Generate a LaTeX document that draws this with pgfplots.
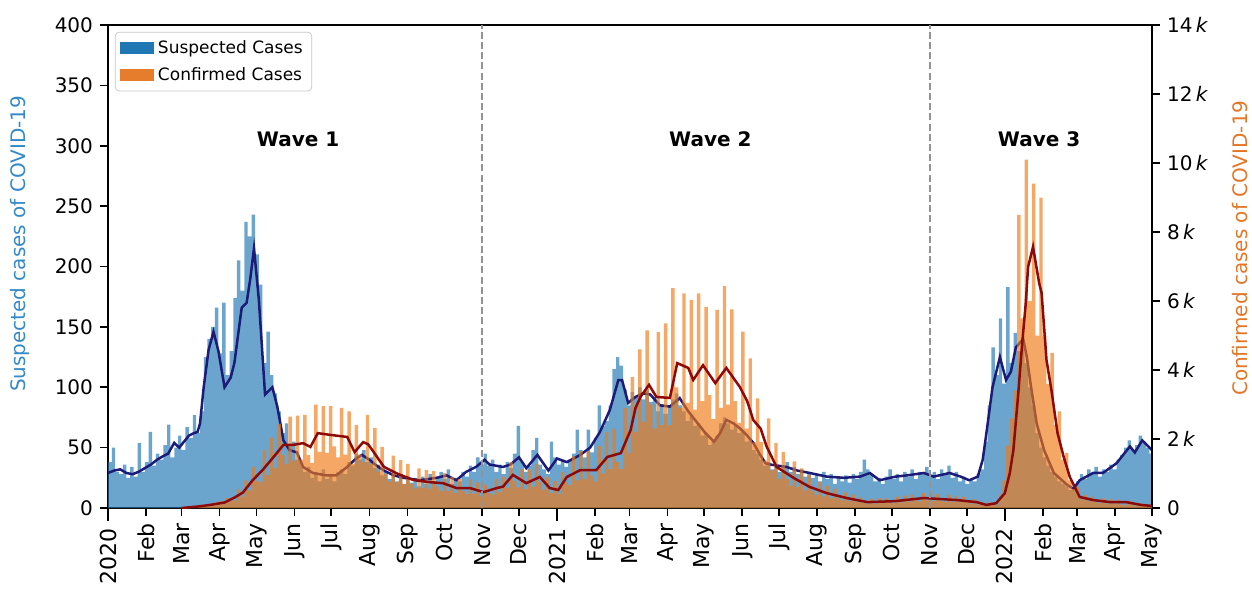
\documentclass[border=0pt]{standalone}
\usepackage{fontspec}
\setmainfont{DejaVu Sans}
\usepackage{pgfplots}
\usepackage{pgfplotstable}
\pgfplotsset{compat=1.18}
\definecolor{tabblue}{RGB}{31,119,180}
\definecolor{taborange}{RGB}{240,120,20}
\definecolor{legorange}{RGB}{230,125,45}
\definecolor{navyline}{RGB}{28,28,120}
\definecolor{redline}{RGB}{140,10,10}
\definecolor{labblue}{RGB}{52,138,199}
\definecolor{laborange}{RGB}{228,118,38}

\pgfplotstableread[row sep=\\, header=false]{
38\\50\\30\\28\\36\\25\\34\\26\\54\\30\\
38\\63\\35\\45\\40\\52\\69\\42\\50\\60\\
48\\67\\58\\77\\62\\
80\\125\\140\\150\\166\\128\\170\\110\\130\\174\\
205\\180\\237\\225\\243\\210\\185\\120\\146\\110\\
95\\80\\62\\70\\52\\
55\\40\\38\\30\\34\\25\\30\\22\\32\\24\\
28\\22\\30\\32\\28\\38\\35\\45\\40\\48\\
38\\42\\33\\36\\27\\30\\24\\28\\22\\27\\
20\\26\\21\\25\\18\\26\\20\\28\\22\\26\\
30\\24\\32\\20\\25\\22\\30\\26\\35\\30\\
42\\36\\45\\35\\40\\30\\36\\28\\38\\33\\
45\\68\\38\\30\\35\\48\\58\\36\\32\\28\\
55\\42\\36\\40\\34\\40\\45\\65\\48\\42\\
65\\46\\58\\85\\68\\72\\85\\115\\125\\118\\
98\\85\\96\\92\\100\\90\\98\\88\\92\\80\\
86\\78\\85\\90\\95\\85\\80\\72\\76\\68\\
70\\60\\62\\52\\56\\60\\70\\75\\70\\65\\
68\\62\\64\\55\\56\\48\\45\\40\\35\\38\\
32\\36\\30\\35\\38\\30\\34\\28\\32\\26\\
30\\25\\28\\22\\30\\24\\28\\20\\26\\22\\
27\\21\\28\\24\\30\\40\\32\\28\\22\\25\\
20\\26\\32\\24\\28\\22\\30\\26\\32\\24\\
30\\28\\34\\26\\30\\24\\32\\28\\35\\25\\
30\\22\\26\\20\\24\\22\\28\\
32\\55\\85\\133\\110\\157\\103\\183\\120\\145\\130\\137\\120\\
100\\85\\62\\50\\42\\35\\30\\26\\22\\20\\
18\\15\\16\\22\\28\\24\\32\\28\\34\\26\\
32\\30\\36\\32\\40\\44\\50\\56\\48\\52\\
60\\55\\50\\45\\
}\susp

\pgfplotstableread[row sep=\\, header=false]{
0\\0\\0\\0\\0\\0\\0\\0\\0\\0\\0\\0\\0\\0\\0\\0\\0\\0\\0\\0\\0\\
0.02\\0.02\\0.06\\0.04\\0.09\\0.06\\0.06\\0.15\\0.09\\0.2\\
0.12\\0.29\\0.21\\0.22\\0.55\\0.33\\0.8\\0.51\\1.19\\0.79\\
0.74\\1.68\\0.95\\2.04\\1.16\\2.44\\1.53\\1.28\\2.65\\1.37\\
2.68\\1.4\\2.7\\1.53\\1.3\\3.0\\1.63\\2.95\\1.6\\2.95\\
1.79\\1.47\\2.9\\1.55\\2.8\\1.28\\2.4\\1.55\\1.33\\2.7\\
1.29\\2.32\\1.05\\1.77\\0.99\\0.77\\1.52\\0.75\\1.39\\0.69\\
1.28\\0.71\\0.57\\1.15\\0.58\\1.1\\0.56\\1.07\\0.62\\0.5\\
1.02\\0.5\\0.9\\0.44\\0.84\\0.49\\0.41\\0.83\\0.41\\0.74\\
0.35\\0.68\\0.43\\0.39\\0.84\\0.45\\0.91\\0.59\\1.33\\0.79\\
0.6\\1.13\\0.55\\1.12\\0.62\\1.28\\0.76\\0.53\\0.9\\0.43\\
0.78\\0.41\\1.04\\0.75\\0.67\\1.5\\0.8\\1.65\\0.83\\1.65\\
0.94\\0.77\\1.8\\1.0\\2.2\\1.13\\2.3\\1.33\\1.13\\2.9\\
1.6\\3.8\\2.2\\4.6\\2.5\\5.15\\3.0\\2.3\\5.1\\2.4\\
5.35\\2.4\\6.37\\3.5\\2.9\\6.22\\3.05\\6.03\\2.85\\6.22\\
3.1\\5.83\\3.27\\2.58\\5.74\\2.9\\6.43\\3.0\\5.76\\3.1\\
2.47\\5.11\\2.3\\4.34\\1.9\\3.18\\1.91\\1.37\\2.6\\1.09\\
1.89\\0.84\\1.63\\0.84\\0.64\\1.35\\0.61\\1.15\\0.51\\0.96\\
0.48\\0.37\\0.76\\0.34\\0.65\\0.29\\0.56\\0.29\\0.22\\0.45\\
0.2\\0.39\\0.17\\0.31\\0.15\\0.12\\0.26\\0.13\\0.28\\0.14\\
0.29\\0.17\\0.14\\0.33\\0.16\\0.36\\0.18\\0.39\\0.22\\0.19\\
0.43\\0.22\\0.43\\0.2\\0.4\\0.21\\0.18\\0.37\\0.18\\0.36\\
0.17\\0.33\\0.17\\0.13\\0.26\\0.1\\0.17\\0.07\\0.16\\0.1\\
0.1\\0.39\\0.8\\1.8\\2.6\\3.4\\8.5\\5.5\\10.1\\6.0\\
9.4\\5.0\\9.0\\5.0\\3.6\\4.5\\2.4\\2.8\\1.4\\1.6\\
0.8\\0.55\\0.6\\0.25\\0.38\\0.2\\0.33\\0.17\\0.14\\0.28\\
0.13\\0.25\\0.12\\0.24\\0.1\\0.09\\0.2\\0.08\\0.15\\0.07\\
0.12\\0.05\\0.05\\
}\conf

\begin{document}
\begin{tikzpicture}
\pgfplotsset{
  common/.style={
    scale only axis, width=522pt, height=241.5pt,
    xmin=0, xmax=851,
    tick align=outside, major tick length=4pt,
    axis line style={line width=0.8pt},
    every tick/.style={black, line width=0.8pt},
    /pgf/number format/assume math mode=true,
    yticklabel style={font=\fontsize{10}{12}\selectfont},
  }
}
\begin{axis}[common, name=ax,
  ymin=0, ymax=400, ytick={0,50,...,400},
  ytick pos=left, xtick pos=bottom,
  xtick={31,60,91,121,152,182,213,244,274,305,335,397,425,456,486,517,547,578,609,639,670,700,762,790,821,851},
  xticklabels={Feb,Mar,Apr,May,Jun,Jul,Aug,Sep,Oct,Nov,Dec,Feb,Mar,Apr,May,Jun,Jul,Aug,Sep,Oct,Nov,Dec,Feb,Mar,Apr,May},
  xticklabel style={rotate=90, anchor=east, font=\fontsize{11}{12}\selectfont, inner ysep=1pt, inner xsep=3.5pt},
  extra x ticks={0,366,731},
  extra x tick labels={2020,2021,2022},
  extra x tick style={major tick length=6.5pt, tick label style={font=\fontsize{16}{17}\selectfont, inner xsep=4.5pt}},
  ylabel={Suspected cases of COVID-19},
  ylabel style={at={(axis description cs:-0.0843,0.547)}, anchor=center, font=\fontsize{10}{12}\selectfont, text=labblue},
]
\addplot[ybar, bar width=2.8, bar shift=0pt, draw=none, fill=tabblue, fill opacity=0.66, forget plot]
  table[x expr=\coordindex*3+1.5, y index=0] {\susp};
\addplot[navyline, line width=1.25pt, forget plot] coordinates {
(0,29) (5,31) (10,32) (15,29) (20,28) (25,30) (30,33) (35,36) (40,40) (45,43) (49,45) (54,54) (58,50) (62,55) (66,60) (70,62) (73,63) (75,70) (78,100) (82,131) (86,146) (90,130) (95,100) (100,108) (103,120) (109,166) (113,170) (116,190) (119,215) (123,172) (128,94) (131,97) (134,100) (138,84) (143,56) (148,48) (154,46) (159,34) (167,29) (178,27) (186,27) (195,34) (201,40) (207,44) (213,40) (219,35) (225,31) (233,27) (241,25) (254,23) (268,25) (276,27) (284,23) (292,30) (300,34) (307,40) (311,36) (322,34) (328,36) (335,42) (341,33) (350,44) (359,31) (366,41) (374,38) (385,44) (393,50) (401,63) (409,81) (416,106) (419,106) (424,87) (430,92) (436,95) (442,94) (450,85) (458,84) (466,91) (473,80) (480,71) (487,62) (494,55) (499,62) (504,73) (510,70) (515,66) (521,60) (526,54) (531,45) (536,37) (540,36) (553,34) (562,31) (572,29) (586,26) (600,25) (613,26) (621,29) (629,23) (642,26) (651,27) (665,29) (673,26) (686,29) (695,26) (702,23) (709,26) (713,40) (716,62) (721,100) (727,125) (732,106) (736,113) (740,133) (746,140) (749,125) (752,103) (757,70) (763,48) (771,29) (782,19) (787,16) (792,23) (803,29) (811,29) (822,37) (833,51) (837,46) (843,56) (851,48)};
\end{axis}

\begin{axis}[common,
  ymin=0, ymax=14,
  axis x line=none, axis y line*=right,
  ytick={0,2,...,14},
  yticklabels={0,2\,\textit{k},4\,\textit{k},6\,\textit{k},8\,\textit{k},10\,\textit{k},12\,\textit{k},14\,\textit{k}},
  ylabel={Confirmed cases of COVID-19},
  ylabel style={at={(axis description cs:1.0843,0.538)}, anchor=center, rotate=0, font=\fontsize{10}{12}\selectfont, text=laborange},
  legend cell align=left,
  legend style={at={(axis description cs:0.0065,0.986)}, anchor=north west, draw=black!22, rounded corners=2pt,
    font=\fontsize{8.5}{10}\selectfont, inner xsep=2.5pt, inner ysep=2pt, row sep=1.5pt},
]
\addlegendimage{legend image code/.code={\fill[tabblue, sharp corners] (0pt,-2.6pt) rectangle (16.5pt,2.9pt);}}
\addlegendentry{Suspected Cases}
\addlegendimage{legend image code/.code={\fill[legorange, sharp corners] (0pt,-2.6pt) rectangle (16.5pt,2.9pt);}}
\addlegendentry{Confirmed Cases}
\addplot[ybar, bar width=2.8, bar shift=0pt, draw=none, fill=taborange, fill opacity=0.65, forget plot]
  table[x expr=\coordindex*3+1.5, y index=0] {\conf};
\addplot[redline, line width=1.25pt, forget plot] coordinates {
(60,0) (66,0.02) (75,0.05) (85,0.1) (95,0.16) (103,0.3) (110,0.45) (118,0.81) (126,1.1) (135,1.48) (143,1.83) (151,1.83) (159,1.88) (165,1.77) (171,2.17) (181,2.12) (195,2.06) (201,1.62) (208,1.91) (212,1.85) (216,1.65) (225,1.19) (235,1.01) (249,0.81) (262,0.75) (273,0.72) (284,0.58) (295,0.58) (306,0.46) (317,0.58) (322,0.62) (330,0.96) (341,0.72) (352,0.90) (360,0.58) (367,0.52) (374,0.9) (385,1.1) (398,1.1) (407,1.48) (418,1.59) (426,2.26) (430,2.9) (434,3.22) (441,3.57) (447,3.22) (458,3.19) (464,4.2) (473,4.06) (477,3.71) (485,4.14) (495,3.62) (504,4.06) (515,3.51) (521,3.1) (526,2.55) (532,2.3) (537,1.77) (545,1.19) (559,0.87) (572,0.61) (586,0.43) (602,0.29) (619,0.17) (642,0.20) (665,0.29) (692,0.23) (708,0.17) (716,0.09) (724,0.14) (731,0.43) (735,1.0) (738,1.68) (742,3.33) (745,4.7) (748,5.9) (750,6.99) (754,7.57) (759,6.52) (761,6.23) (765,4.29) (769,3.42) (774,2.17) (779,1.48) (784,0.9) (792,0.32) (803,0.23) (817,0.17) (830,0.17) (842,0.09) (851,0.06)};
\addplot[gray!85, line width=0.8pt, dash pattern=on 3.5pt off 1.6pt, forget plot] coordinates {(305,0) (305,14)};
\addplot[gray!85, line width=0.8pt, dash pattern=on 3.5pt off 1.6pt, forget plot] coordinates {(670,0) (670,14)};
\node[font=\bfseries\fontsize{10}{12}\selectfont] at (axis cs:155,10.7) {Wave 1};
\node[font=\bfseries\fontsize{10}{12}\selectfont] at (axis cs:491,10.7) {Wave 2};
\node[font=\bfseries\fontsize{10}{12}\selectfont] at (axis cs:759,10.7) {Wave 3};
\end{axis}
\pgfresetboundingbox
\path[use as bounding box] ([shift={(-54pt,-41pt)}]ax.south west) rectangle ([shift={(50pt,12.5pt)}]ax.north east);
\end{tikzpicture}
\end{document}
